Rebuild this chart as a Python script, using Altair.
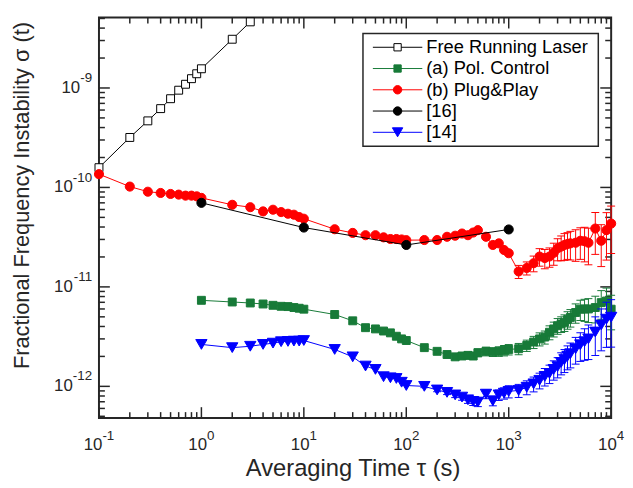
import altair as alt
import pandas as pd

# ---------------- data ----------------
FR_TAU = [0.1, 0.2, 0.3, 0.4, 0.5, 0.6, 0.7, 0.8, 0.9, 1, 2, 3]
FR_SIG = [1.58e-10, 3.18e-10, 4.67e-10, 6.2e-10, 7.8e-10, 9.5e-10, 1.09e-9,
          1.24e-9, 1.39e-9, 1.56e-9, 3.09e-9, 4.62e-9]

PP_TAU = [0.1, 0.2, 0.3, 0.4, 0.5, 0.6, 0.7, 0.8, 0.9,
          1, 2, 3, 4, 5, 6, 7, 8, 9,
          10, 20, 30, 40, 50, 60, 70, 80, 90,
          100, 150, 200, 250, 300, 350, 400, 450, 500,
          600, 700, 800, 900, 1000,
          1250, 1500, 1750, 2000, 2250, 2500, 2750, 3000, 3250, 3500, 3750, 4000,
          4500, 5000, 5500, 6000, 7000, 8000, 9000, 10000]
PP_SIG = [1.36e-10, 1.02e-10, 9.06e-11, 8.8e-11, 8.6e-11, 8.47e-11, 8.27e-11, 8.27e-11, 8.14e-11,
          7.85e-11, 6.69e-11, 6.33e-11, 5.74e-11, 5.97e-11, 5.65e-11, 5.44e-11, 5.32e-11, 5.04e-11,
          4.85e-11, 3.8e-11, 3.49e-11, 3.31e-11, 3.31e-11, 3.15e-11, 3.03e-11, 3.03e-11, 3.0e-11,
          2.95e-11, 2.96e-11, 2.96e-11, 3.19e-11, 3.27e-11, 3.44e-11, 3.31e-11, 3.52e-11, 3.72e-11,
          3.19e-11, 2.64e-11, 2.74e-11, 2.35e-11, 2.18e-11,
          1.43e-11, 1.55e-11, 1.73e-11, 2.02e-11, 1.95e-11, 2.02e-11, 2.2e-11, 2.44e-11, 2.54e-11,
          2.64e-11, 2.7e-11, 2.74e-11,
          2.78e-11, 2.91e-11, 2.88e-11, 2.78e-11, 3.86e-11, 2.91e-11, 3.72e-11, 4.33e-11]
PP_ERR = [0] * 41 + [0.15, 0.15, 0.18, 0.2, 0.22, 0.22, 0.25, 0.25, 0.28, 0.3, 0.3, 0.32,
                     0.35, 0.35, 0.38, 0.4, 0.45, 0.45, 0.5, 0.5]

PC_TAU = [1, 2, 3, 4, 5, 6, 7, 8, 9,
          10, 20, 30, 40, 50, 60, 70, 80, 90,
          100, 150, 200, 250, 300, 350, 400, 450, 500,
          600, 700, 800, 900, 1000,
          1250, 1500, 1750, 2000, 2250, 2500, 2750, 3000, 3250, 3500, 3750, 4000,
          4500, 5000, 5500, 6000, 7000, 8000, 9000, 10000]
PC_SIG = [7.33e-12, 7.05e-12, 6.89e-12, 6.73e-12, 6.53e-12, 6.38e-12, 6.34e-12, 6.2e-12, 6.1e-12,
          5.97e-12, 5.28e-12, 4.56e-12, 3.89e-12, 3.78e-12, 3.6e-12, 3.45e-12, 3.19e-12, 3.0e-12,
          2.89e-12, 2.45e-12, 2.25e-12, 2.09e-12, 1.98e-12, 2.02e-12, 2.05e-12, 2.02e-12, 2.18e-12,
          2.25e-12, 2.22e-12, 2.25e-12, 2.3e-12, 2.35e-12,
          2.39e-12, 2.58e-12, 2.79e-12, 3.0e-12, 3.13e-12, 3.5e-12, 3.78e-12, 4.07e-12, 4.24e-12,
          4.4e-12, 4.69e-12, 4.93e-12,
          5.53e-12, 5.97e-12, 6.0e-12, 6.0e-12, 6.2e-12, 6.95e-12, 7.21e-12, 5.97e-12]
PC_ERR = [0] * 19 + [0.03, 0.04, 0.05, 0.06, 0.07, 0.08, 0.08, 0.09,
                     0.1, 0.1, 0.11, 0.12, 0.12,
                     0.13, 0.13, 0.14, 0.15, 0.15, 0.16, 0.17, 0.18, 0.18, 0.19, 0.2, 0.2,
                     0.22, 0.23, 0.25, 0.27, 0.3, 0.32, 0.35, 0.38]

R14_TAU = PC_TAU
R14_SIG = [2.64e-12, 2.45e-12, 2.53e-12, 2.64e-12, 2.72e-12, 2.81e-12, 2.83e-12, 2.85e-12, 2.85e-12,
           2.89e-12, 2.35e-12, 1.98e-12, 1.6e-12, 1.48e-12, 1.25e-12, 1.22e-12, 1.2e-12, 1.1e-12,
           1.02e-12, 1.0e-12, 9.2e-13, 8.7e-13, 8.2e-13, 7.8e-13, 7.33e-13, 7.06e-13, 6.95e-13,
           8.35e-13, 7.16e-13, 8.2e-13, 8.55e-13, 8.9e-13,
           9.1e-13, 9.8e-13, 1.06e-12, 1.15e-12, 1.26e-12, 1.35e-12, 1.48e-12, 1.58e-12, 1.74e-12,
           1.86e-12, 2.01e-12, 2.13e-12,
           2.39e-12, 2.62e-12, 2.81e-12, 3.0e-12, 3.52e-12, 4.14e-12, 4.74e-12, 4.96e-12]
R14_ERR = [0] * 19 + [0.03, 0.04, 0.05, 0.06, 0.07, 0.08, 0.09, 0.1,
                      0.1, 0.11, 0.12, 0.13, 0.14,
                      0.15, 0.16, 0.17, 0.18, 0.2, 0.21, 0.22, 0.23, 0.25, 0.26, 0.27, 0.28,
                      0.3, 0.32, 0.35, 0.38, 0.42, 0.45, 0.48, 0.5]

R16_TAU = [1, 10, 100, 1000]
R16_SIG = [7.0e-11, 3.95e-11, 2.64e-11, 3.78e-11]

LEGEND = ["Free Running Laser", "(a) Pol. Control", "(b) Plug&Play", "[16]", "[14]"]
X_TITLE = "Averaging Time τ (s)"
Y_TITLE = "Fractional Frequency Instability σ (t)"
X_EXP = [-1, 0, 1, 2, 3, 4]
Y_EXP = [-12, -11, -10, -9]

# ---------------- styling ----------------
W, H = 518, 405
FONT = "Liberation Sans"
AX = "#262626"
GREEN = "#177a38"
RED = "#ff0000"
BLUE = "#0000ff"
BLACK = "#000000"

xs = alt.Scale(type="log", domain=[0.1, 1e4])
ys = alt.Scale(type="log", domain=[4.8e-13, 5.1e-9])


def X():
    return alt.X("tau:Q", scale=xs, axis=None)


def Y(field="sigma"):
    return alt.Y(f"{field}:Q", scale=ys, axis=None)


def make_df(tau, sig, err=None):
    d = pd.DataFrame({"tau": tau, "sigma": sig})
    d["err"] = err if err is not None else 0.0
    d["lo"] = d["sigma"] * (1 - d["err"])
    d["hi"] = d["sigma"] * (1 + d["err"])
    return d


def series_layers(df, color, shape, size, fill):
    out = []
    e = df[df["err"] > 0]
    if len(e):
        eb = alt.Chart(e)
        out.append(eb.mark_rule(color=color, strokeWidth=1).encode(x=X(), y=Y("lo"), y2="hi:Q"))
        out.append(eb.mark_tick(color=color, orient="horizontal", size=8, thickness=1, opacity=1)
                   .encode(x=X(), y=Y("lo")))
        out.append(eb.mark_tick(color=color, orient="horizontal", size=8, thickness=1, opacity=1)
                   .encode(x=X(), y=Y("hi")))
    out.append(alt.Chart(df).mark_line(color=color, strokeWidth=1).encode(x=X(), y=Y()))
    out.append(alt.Chart(df).mark_point(shape=shape, size=size, filled=True, fill=fill,
                                        stroke=color, strokeWidth=1, opacity=1,
                                        fillOpacity=1, strokeOpacity=1)
               .encode(x=X(), y=Y()))
    return out


layers = []
one = pd.DataFrame({"k": [0]})

# ---------------- ticks (inward, on all four sides) ----------------
xmaj = [10.0 ** e for e in X_EXP]
xmin = [k * 10.0 ** e for e in range(-1, 4) for k in range(2, 10)]
ymaj = [10.0 ** e for e in Y_EXP]
ymin = [k * 10.0 ** e for e in range(-13, -8) for k in range(2, 10)
        if 4.8e-13 <= k * 10.0 ** e <= 5.1e-9]

for vals, L in [(xmaj, 11), (xmin, 6)]:
    d = pd.DataFrame({"tau": vals})
    layers.append(alt.Chart(d).mark_rule(color=AX, strokeWidth=1.5)
                  .encode(x=X(), y=alt.value(H), y2=alt.value(H - L)))
    layers.append(alt.Chart(d).mark_rule(color=AX, strokeWidth=1.5)
                  .encode(x=X(), y=alt.value(0), y2=alt.value(L)))
for vals, L in [(ymaj, 11), (ymin, 6)]:
    d = pd.DataFrame({"sigma": vals})
    layers.append(alt.Chart(d).mark_rule(color=AX, strokeWidth=1.5)
                  .encode(y=Y(), x=alt.value(0), x2=alt.value(L)))
    layers.append(alt.Chart(d).mark_rule(color=AX, strokeWidth=1.5)
                  .encode(y=Y(), x=alt.value(W), x2=alt.value(W - L)))

# ---------------- tick labels 10^n ----------------
BASE_FS, EXP_FS = 17, 13.5
w_base = BASE_FS * 1.112


def exp_width(s):
    return EXP_FS * (0.333 * s.count("-") + 0.556 * sum(c.isdigit() for c in s))


for e in X_EXP:
    s = str(e)
    tot = w_base + exp_width(s)
    left = -tot / 2
    d = pd.DataFrame({"tau": [10.0 ** e]})
    layers.append(alt.Chart(d).mark_text(align="left", baseline="middle", dx=left, font=FONT,
                                         fontSize=BASE_FS, color=AX)
                  .encode(x=X(), y=alt.value(H + 27), text=alt.value("10")))
    layers.append(alt.Chart(d).mark_text(align="left", baseline="middle", dx=left + w_base,
                                         font=FONT, fontSize=EXP_FS, color=AX)
                  .encode(x=X(), y=alt.value(H + 18), text=alt.value(s)))

for e in Y_EXP:
    s = str(e)
    d = pd.DataFrame({"sigma": [10.0 ** e]})
    layers.append(alt.Chart(d).mark_text(align="right", baseline="middle", font=FONT,
                                         fontSize=BASE_FS, color=AX)
                  .encode(x=alt.value(-7 - exp_width(s)), y=Y(), text=alt.value("10")))
    layers.append(alt.Chart(d).mark_text(align="right", baseline="middle", dy=-10, font=FONT,
                                         fontSize=EXP_FS, color=AX)
                  .encode(x=alt.value(-7), y=Y(), text=alt.value(s)))

# ---------------- axis titles ----------------
layers.append(alt.Chart(one).mark_text(align="center", baseline="top", font=FONT, fontSize=24,
                                       color=AX)
              .encode(x=alt.value(W / 2 - 2), y=alt.value(H + 40), text=alt.value(X_TITLE)))
layers.append(alt.Chart(one).mark_text(align="center", baseline="bottom", angle=270, font=FONT,
                                       fontSize=22, color=AX)
              .encode(x=alt.value(-66), y=alt.value(180), text=alt.value(Y_TITLE)))

# ---------------- series ----------------
SERIES = [
    (make_df(FR_TAU, FR_SIG), BLACK, "square", 64, "white"),
    (make_df(PC_TAU, PC_SIG, PC_ERR), GREEN, "square", 64, GREEN),
    (make_df(PP_TAU, PP_SIG, PP_ERR), RED, "circle", 85, RED),
    (make_df(R16_TAU, R16_SIG), BLACK, "circle", 85, BLACK),
    (make_df(R14_TAU, R14_SIG, R14_ERR), BLUE, "triangle-down", 130, BLUE),
]
for df, color, shape, size, fill in SERIES:
    layers += series_layers(df, color, shape, size, fill)

# ---------------- legend ----------------
layers.append(alt.Chart(one).mark_rect(fill="white", stroke=AX, strokeWidth=1.5)
              .encode(x=alt.value(267), x2=alt.value(505), y=alt.value(16), y2=alt.value(130)))
for i, (name, (_, color, shape, size, fill)) in enumerate(zip(LEGEND, SERIES)):
    ry = 30 + 21.5 * i
    layers.append(alt.Chart(one).mark_rule(color=color, strokeWidth=1)
                  .encode(x=alt.value(277), x2=alt.value(327), y=alt.value(ry)))
    layers.append(alt.Chart(one).mark_point(shape=shape, size=size * 0.85, filled=True, fill=fill,
                                            stroke=color, strokeWidth=1, opacity=1)
                  .encode(x=alt.value(302), y=alt.value(ry)))
    layers.append(alt.Chart(one).mark_text(align="left", baseline="middle", font=FONT,
                                           fontSize=18.5, color=BLACK)
                  .encode(x=alt.value(331), y=alt.value(ry), text=alt.value(name)))

chart = (
    alt.layer(*layers)
    .properties(width=W, height=H, autosize=alt.AutoSizeParams(type="none"),
                padding={"left": 92, "top": 7, "right": 14, "bottom": 66})
    .configure_view(stroke=AX, strokeWidth=2)
)

chart.save("out.html", embed_options={"renderer": "svg", "actions": False})
